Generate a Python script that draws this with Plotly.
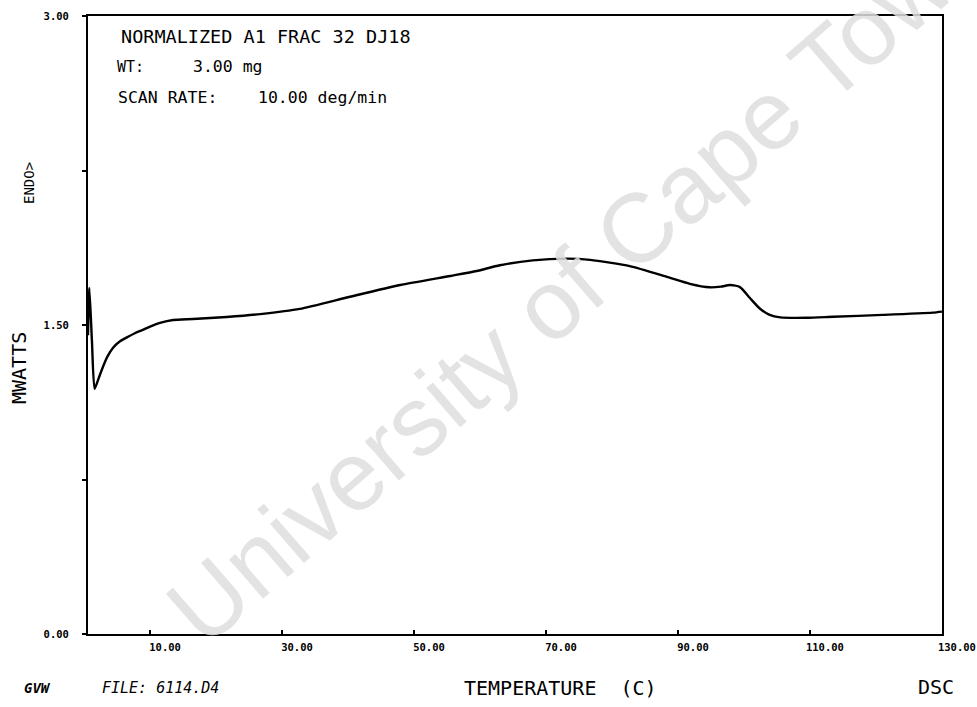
import plotly.graph_objects as go

# DSC trace: normalized heat flow vs temperature
temperature_c = [0.6, 0.8, 1.2, 1.6, 2.2, 2.9, 3.6, 4.4, 5.4, 6.5, 7.7, 8.9, 10.2, 11.5,
                 13.5, 16.5, 21.6, 26.7, 32.7, 40.3, 47.9, 55.5, 59.5, 63.0, 68.0, 73.1,
                 76.7, 82.7, 88.3, 91.8, 94.8, 96.5, 97.9, 99.4, 100.9, 102.4, 103.9,
                 105.5, 109.5, 113.5, 121.0, 128.6, 130.0]
mwatts = [1.45, 1.68, 1.42, 1.19, 1.24, 1.30, 1.35, 1.39, 1.42, 1.44, 1.46, 1.476, 1.495,
          1.51, 1.524, 1.529, 1.539, 1.553, 1.578, 1.637, 1.694, 1.738, 1.762, 1.790,
          1.814, 1.822, 1.816, 1.786, 1.734, 1.70, 1.683, 1.686, 1.694, 1.684, 1.631,
          1.58, 1.549, 1.537, 1.535, 1.54, 1.549, 1.56, 1.565]

x_ticks = [10, 30, 50, 70, 90, 110, 130]
x_tick_text = ["10.00", "30.00", "50.00", "70.00", "90.00", "110.00", "130.00"]
y_ticks = [0, 0.75, 1.5, 2.25, 3.0]
y_tick_text = ["0.00", "", "1.50", "", "3.00"]

W, H = 977, 707
L, R, T, B = 88, 942, 16, 634


def px(x):
    return (x - L) / (R - L)


def py(y):
    return (B - y) / (B - T)


MONO = "DejaVu Sans Mono"
TICK_FONT = dict(family=MONO, size=10.5, color="black", weight="bold")

fig = go.Figure()
fig.add_trace(go.Scatter(
    x=temperature_c, y=mwatts, mode="lines",
    line=dict(color="black", width=2.4, shape="spline", smoothing=0.6),
    hoverinfo="skip", showlegend=False,
))

axis_common = dict(
    showline=True, linecolor="black", linewidth=2, mirror=True,
    showgrid=False, zeroline=False, automargin=False,
    tickcolor="black", tickwidth=1.5,
    ticklabeloverflow="allow",
)

fig.update_xaxes(
    range=[0.6, 130.01], tickvals=x_ticks, ticktext=x_tick_text,
    ticks="inside", ticklen=4, ticklabelshift=15, ticklabelstandoff=2,
    tickfont=TICK_FONT,
    **axis_common,
)
fig.update_yaxes(
    range=[0, 3.0], tickvals=y_ticks, ticktext=y_tick_text,
    ticks="outside", ticklen=4, ticklabelstandoff=11,
    tickfont=TICK_FONT,
    **axis_common,
)

annotations = [
    # watermark
    dict(text="University of Cape Town", x=px(580), y=py(278), xref="paper", yref="paper",
         textangle=-41, showarrow=False,
         font=dict(family="Liberation Sans", size=98, color="rgba(222,222,222,0.85)")),
    # header block
    dict(text="NORMALIZED A1 FRAC 32 DJ18", x=px(119), y=py(37), xanchor="left",
         font=dict(family=MONO, size=18.5, color="black")),
    dict(text="WT:", x=px(115), y=py(67), xanchor="left",
         font=dict(family=MONO, size=15, color="black")),
    dict(text="3.00 mg", x=px(191), y=py(67), xanchor="left",
         font=dict(family=MONO, size=16.5, color="black")),
    dict(text="SCAN RATE:", x=px(116), y=py(97), xanchor="left",
         font=dict(family=MONO, size=16.5, color="black")),
    dict(text="10.00 deg/min", x=px(256), y=py(97), xanchor="left",
         font=dict(family=MONO, size=16.5, color="black")),
    # axis titles
    dict(text="TEMPERATURE\u00a0\u00a0(C)", x=px(560), y=py(688), xanchor="center",
         font=dict(family=MONO, size=20, color="black")),
    dict(text="MWATTS", x=px(19), y=py(368), textangle=-90, xanchor="center",
         font=dict(family=MONO, size=20, color="black")),
    dict(text="ENDO>", x=px(29), y=py(183), textangle=-90, xanchor="center",
         font=dict(family=MONO, size=14, color="black")),
    # footer
    dict(text="<i>GVW</i>", x=px(22), y=py(688), xanchor="left",
         font=dict(family=MONO, size=14, color="black", weight="bold")),
    dict(text="<i>FILE: 6114.D4</i>", x=px(100), y=py(688), xanchor="left",
         font=dict(family=MONO, size=15, color="black")),
    dict(text="DSC", x=px(936), y=py(687), xanchor="center",
         font=dict(family=MONO, size=20, color="black")),
]
for a in annotations:
    a.setdefault("xref", "paper")
    a.setdefault("yref", "paper")
    a.setdefault("showarrow", False)
    a.setdefault("xanchor", "center")
    a.setdefault("yanchor", "middle")
    fig.add_annotation(**a)

fig.update_layout(
    width=W, height=H,
    margin=dict(l=L, r=W - R, t=T, b=H - B, autoexpand=False),
    paper_bgcolor="white", plot_bgcolor="white",
    showlegend=False,
)

fig.write_html("out.html")
